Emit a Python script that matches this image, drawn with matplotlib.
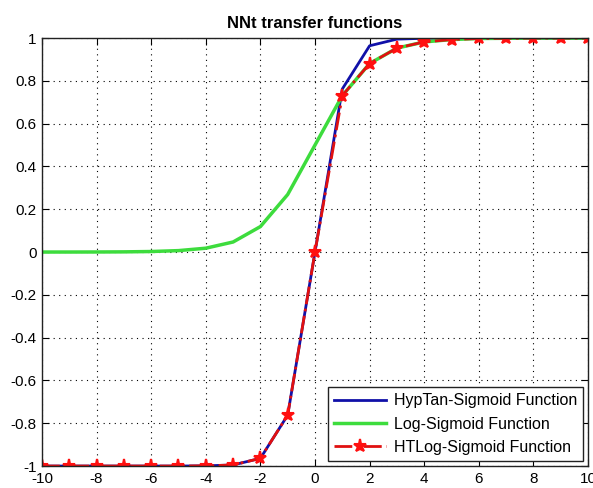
import matplotlib
matplotlib.use("Agg")
import matplotlib.pyplot as plt

plt.rcParams['font.family'] = ['Liberation Sans', 'DejaVu Sans']

x = [-10, -9, -8, -7, -6, -5, -4, -3, -2, -1, 0, 1, 2, 3, 4, 5, 6, 7, 8, 9, 10]
hyptan = [-1.0, -1.0, -1.0, -1.0, -1.0, -1.0, -0.999, -0.995, -0.964, -0.762, 0.0,
          0.762, 0.964, 0.995, 0.999, 1.0, 1.0, 1.0, 1.0, 1.0, 1.0]
logsig = [0.00005, 0.0001, 0.0003, 0.0009, 0.0025, 0.0067, 0.018, 0.047, 0.119, 0.269, 0.5,
          0.731, 0.881, 0.953, 0.982, 0.993, 0.998, 0.999, 1.0, 1.0, 1.0]
htlog = [-1.0, -1.0, -1.0, -1.0, -1.0, -1.0, -0.999, -0.995, -0.964, -0.762, 0.0,
         0.731, 0.881, 0.953, 0.982, 0.993, 0.998, 0.999, 1.0, 1.0, 1.0]
xticks = list(range(-10, 11, 2))
yticks = [-1, -0.8, -0.6, -0.4, -0.2, 0, 0.2, 0.4, 0.6, 0.8, 1]
yticklabels = ['-1', '-0.8', '-0.6', '-0.4', '-0.2', '0', '0.2', '0.4', '0.6', '0.8', '1']

fig = plt.figure(figsize=(5.93, 4.88), dpi=100)
ax = fig.add_axes([0.0708, 0.045, 0.9208, 0.877])

ax.plot(x, hyptan, color='#1010a8', lw=2.0, label='HypTan-Sigmoid Function')
ax.plot(x, logsig, color='#3ddc3d', lw=2.5, label='Log-Sigmoid Function')
ax.plot(x, htlog, color='#e01010', lw=2.0, linestyle='-.', marker='*', markersize=9.5,
        markerfacecolor='#ff1010', markeredgecolor='#ff1010', markeredgewidth=1.5,
        label='HTLog-Sigmoid Function')

ax.set_xlim(-10, 10)
ax.set_ylim(-1, 1)
ax.set_xticks(xticks)
ax.set_xticklabels([str(t) for t in xticks])
ax.set_yticks(yticks)
ax.set_yticklabels(yticklabels)
ax.grid(True, color='black', linestyle=(0, (1, 4)), linewidth=0.8)
ax.tick_params(direction='in', top=True, right=True, labelsize=11, length=5, pad=4)
for s in ax.spines.values():
    s.set_linewidth(1.0)
    s.set_color('#222222')

ax.set_title('NNt transfer functions', fontsize=12, fontweight='bold', pad=7)

leg = ax.legend(loc='lower right', fontsize=11.5, handlelength=3.2, fancybox=False,
                framealpha=1, edgecolor='#222222', borderaxespad=0.3,
                labelspacing=0.52, handletextpad=0.5, borderpad=0.4)
leg.get_frame().set_linewidth(1.0)

fig.savefig('out.png', dpi=100)
